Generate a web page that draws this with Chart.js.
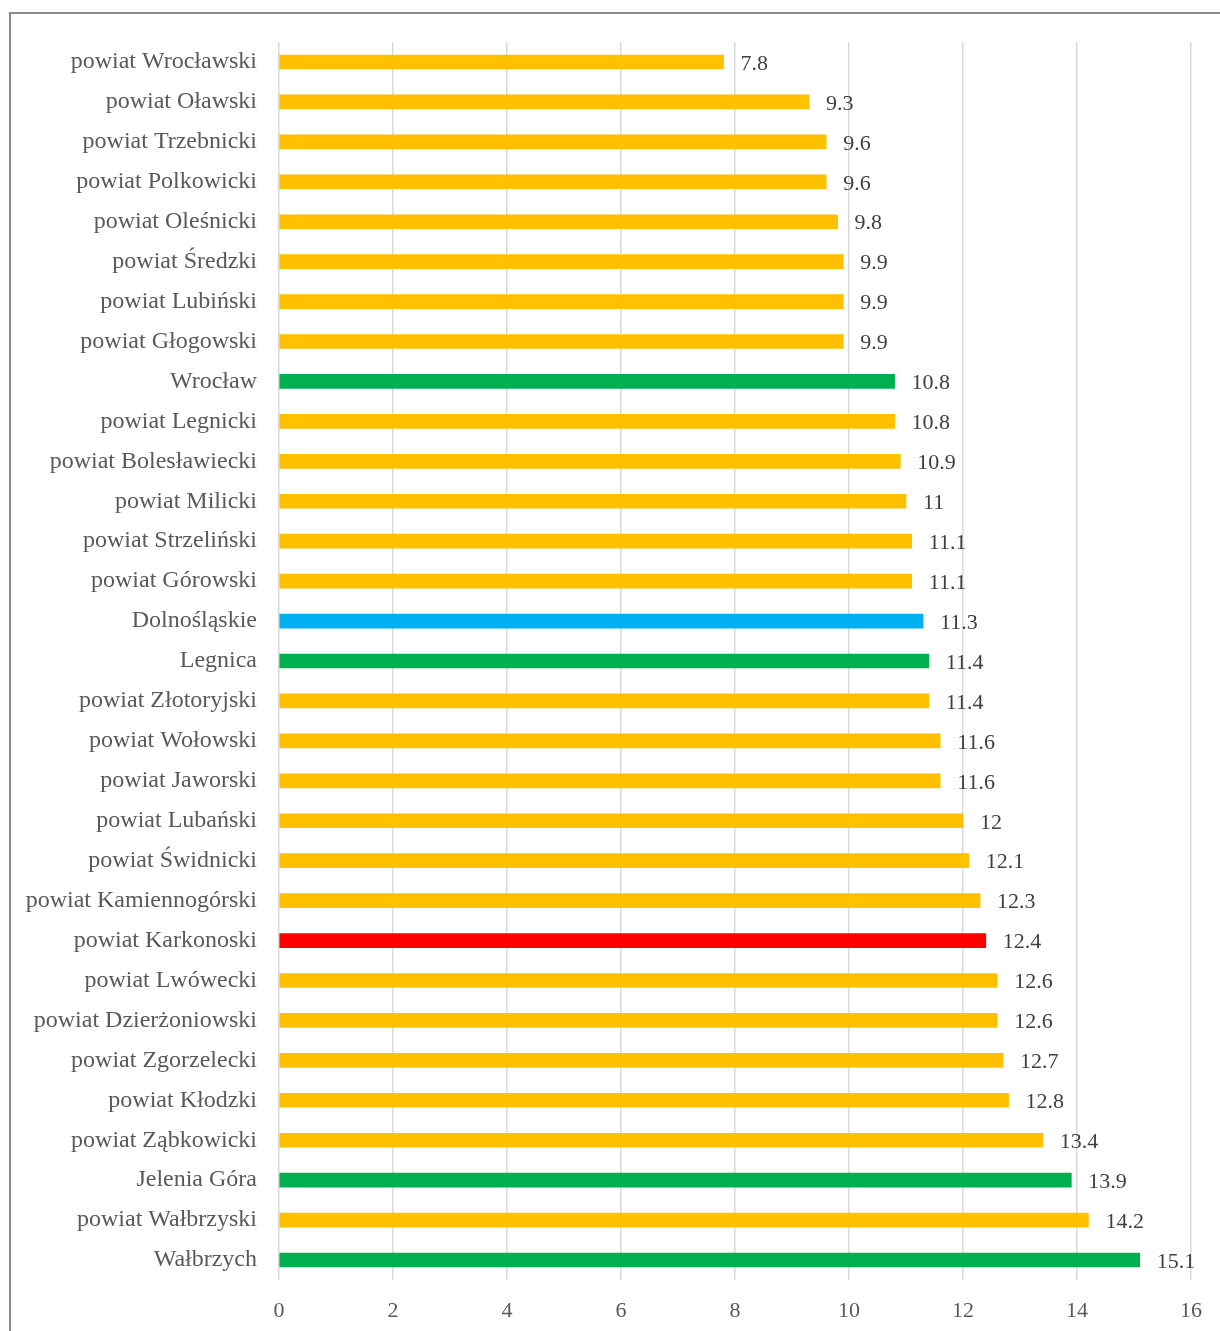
<!DOCTYPE html>
<html>
<head>
<meta charset="utf-8">
<script src="https://cdn.jsdelivr.net/npm/chart.js@4"></script>
<style>
  body { margin: 0; background: #fff; }
  #wrap { width: 1220px; height: 1331px; position: relative; }
</style>
</head>
<body>
<div id="wrap"><canvas id="chart_1"></canvas></div>
<script>
const categories = [
  "powiat Wrocławski", "powiat Oławski", "powiat Trzebnicki", "powiat Polkowicki",
  "powiat Oleśnicki", "powiat Średzki", "powiat Lubiński", "powiat Głogowski",
  "Wrocław", "powiat Legnicki", "powiat Bolesławiecki", "powiat Milicki",
  "powiat Strzeliński", "powiat Górowski", "Dolnośląskie", "Legnica",
  "powiat Złotoryjski", "powiat Wołowski", "powiat Jaworski", "powiat Lubański",
  "powiat Świdnicki", "powiat Kamiennogórski", "powiat Karkonoski", "powiat Lwówecki",
  "powiat Dzierżoniowski", "powiat Zgorzelecki", "powiat Kłodzki", "powiat Ząbkowicki",
  "Jelenia Góra", "powiat Wałbrzyski", "Wałbrzych"
];
const values = [
  7.8, 9.3, 9.6, 9.6, 9.8, 9.9, 9.9, 9.9,
  10.8, 10.8, 10.9, 11, 11.1, 11.1, 11.3, 11.4,
  11.4, 11.6, 11.6, 12, 12.1, 12.3, 12.4, 12.6,
  12.6, 12.7, 12.8, 13.4, 13.9, 14.2, 15.1
];
// cities green, region blue, Karkonoski red, rest yellow
const cities = ["Wrocław", "Legnica", "Jelenia Góra", "Wałbrzych"];
const region = ["Dolnośląskie"];
const marked = ["powiat Karkonoski"];

const barColors = categories.map(function (c) {
  if (cities.includes(c)) return "#00B050";
  if (region.includes(c)) return "#00B0F0";
  if (marked.includes(c)) return "#FF0000";
  return "#FFC000";
});

const FONT = "'Liberation Serif', 'Times New Roman', serif";

// frame around chart + value labels
const extras = {
  id: "extras",
  beforeDraw(chart) {
    const ctx = chart.ctx;
    ctx.save();
    ctx.strokeStyle = "#8c8c8c";
    ctx.lineWidth = 2;
    ctx.beginPath();
    ctx.moveTo(10, 1331);
    ctx.lineTo(10, 13);
    ctx.lineTo(1222, 13);
    ctx.stroke();
    ctx.restore();
  },
  afterDatasetsDraw(chart) {
    const ctx = chart.ctx;
    const meta = chart.getDatasetMeta(0);
    ctx.save();
    ctx.font = "22px " + FONT;
    ctx.fillStyle = "#404040";
    ctx.textBaseline = "middle";
    ctx.textAlign = "left";
    meta.data.forEach(function (bar, i) {
      ctx.fillText(String(values[i]), bar.x + 17, bar.y + 2);
    });
    ctx.restore();
  }
};

const ct_1 = document.getElementById("chart_1");

const config_1 = {
  type: "bar",
  data: {
    labels: categories,
    datasets: [
      {
        data: values,
        backgroundColor: barColors,
        barThickness: 14,
      },
    ],
  },
  options: {
    indexAxis: "y",
    responsive: true,
    maintainAspectRatio: false,
    animation: false,
    layout: { padding: { top: 42, right: 29, left: 0, bottom: 0 } },
    plugins: {
      legend: { display: false },
      tooltip: { enabled: false },
    },
    scales: {
      x: {
        min: 0,
        max: 16,
        ticks: {
          stepSize: 2,
          padding: 18,
          color: "#595959",
          font: { size: 22, family: FONT },
        },
        grid: { color: "#d9d9d9", lineWidth: 1.5, drawTicks: false },
        border: { display: false },
        afterFit(scale) { scale.height = 51; },
      },
      y: {
        ticks: {
          padding: 14,
          color: "#595959",
          font: { size: 24, family: FONT },
        },
        grid: { display: false },
        border: { display: false },
        afterFit(scale) { scale.width = 279; },
      },
    },
  },
  plugins: [extras],
};

new Chart(ct_1, config_1);
</script>
</body>
</html>
